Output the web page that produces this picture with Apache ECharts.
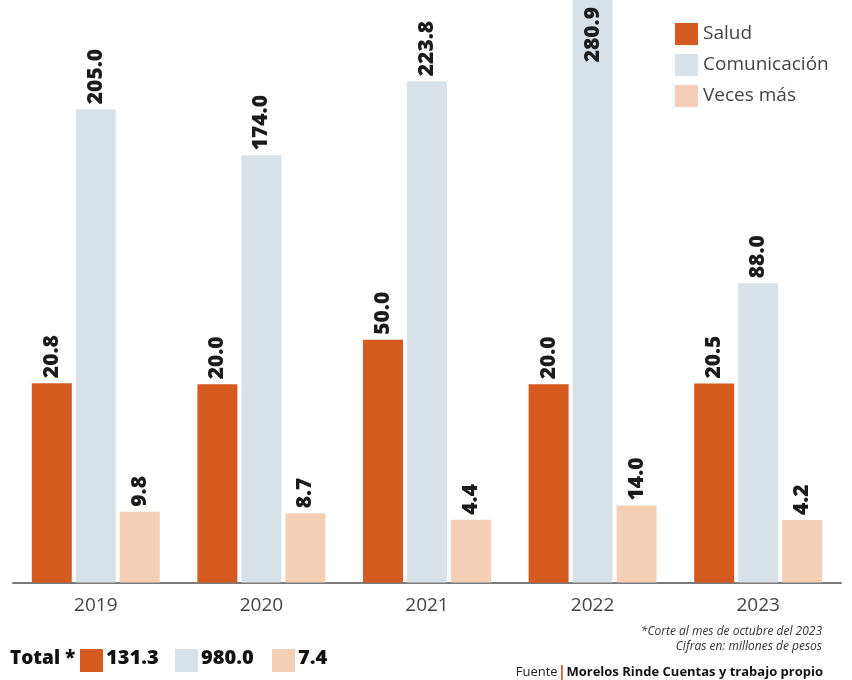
<!DOCTYPE html>
<html>
<head>
<meta charset="utf-8">
<script src="https://cdn.jsdelivr.net/npm/echarts@6/dist/echarts.min.js"></script>
<style>html,body{margin:0;padding:0;background:#fff;}#c{width:852px;height:680px;}</style>
</head>
<body>
<div id="c"></div>
<script>
const years = ['2019', '2020', '2021', '2022', '2023'];
const salud = [20.8, 20.0, 50.0, 20.0, 20.5];
const comunicacion = [205.0, 174.0, 223.8, 280.9, 88.0];
const vecesMas = [9.8, 8.7, 4.4, 14.0, 4.2];
const seriesNames = ['Salud', 'Comunicación', 'Veces más'];
const totals = ['131.3', '980.0', '7.4'];
const colors = ['#D45A20', '#D9E1E8', '#F5CFB5'];

const FONT = '"Open Sans", "Noto Sans", sans-serif';
const chart = echarts.init(document.getElementById('c'), null, {renderer: 'canvas'});

function makeRender(slot) {
  return function (params, api) {
    const i = api.value(0);
    const v = api.value(1);
    const top = api.coord([i, v]);
    const baseY = params.coordSys.y + params.coordSys.height;
    const cx = top[0] + (slot - 1) * 44;
    const w = 40;
    const inside = top[1] < 70;
    const labelY = inside ? 7 : top[1] - 5;
    return {
      type: 'group',
      children: [
        {
          type: 'rect',
          shape: {x: cx - w / 2, y: top[1], width: w, height: baseY - top[1]},
          style: {fill: colors[slot]}
        },
        {
          type: 'text',
          x: cx, y: labelY,
          rotation: Math.PI / 2,
          style: {
            text: v.toFixed(1),
            font: '800 21px ' + FONT,
            fill: '#1b1b1b',
            align: inside ? 'right' : 'left',
            verticalAlign: 'middle'
          }
        }
      ]
    };
  };
}

const seriesData = [salud, comunicacion, vecesMas];
const series = seriesData.map((arr, s) => ({
  type: 'custom',
  name: seriesNames[s],
  yAxisIndex: s === 2 ? 1 : 0,
  itemStyle: {color: colors[s]},
  renderItem: makeRender(s),
  encode: {x: 0, y: 1},
  data: arr.map((v, i) => [i, v])
}));

const graphic = [
  {type: 'text', left: 10, top: 649, style: {text: 'Total *', font: '800 19px ' + FONT, fill: '#111'}}
];
const totX = [80, 175, 272];
totals.forEach((t, k) => {
  graphic.push({type: 'rect', left: totX[k], top: 649, shape: {width: 23, height: 23}, style: {fill: colors[k]}});
  graphic.push({type: 'text', left: totX[k] + 26, top: 648, style: {text: t, font: '800 20px ' + FONT, fill: '#111'}});
});
graphic.push({type: 'text', right: 30, top: 626, style: {text: '*Corte al mes de octubre del 2023', font: 'italic 12px ' + FONT, fill: '#333', align: 'right'}});
graphic.push({type: 'text', right: 30, top: 641, style: {text: 'Cifras en: millones de pesos', font: 'italic 12px ' + FONT, fill: '#333', align: 'right'}});
graphic.push({
  type: 'text', right: 29, top: 664,
  style: {
    text: '{a|Fuente}{b||}{c|Morelos Rinde Cuentas y trabajo propio}',
    rich: {
      a: {font: '13px ' + FONT, fill: '#222'},
      b: {font: 'bold 16px ' + FONT, fill: '#D45A20'},
      c: {font: 'bold 13px ' + FONT, fill: '#111'}
    }
  }
});

chart.setOption({
  animation: false,
  backgroundColor: '#fff',
  grid: {left: 13, right: 11, top: 0, bottom: 97.5},
  legend: {
    data: seriesNames,
    orient: 'vertical',
    left: 670, top: 18,
    itemWidth: 23, itemHeight: 22, itemGap: 9,
    icon: 'rect',
    textStyle: {fontSize: 19, color: '#444', fontFamily: FONT}
  },
  xAxis: {
    type: 'category',
    data: years,
    axisLine: {onZero: false, lineStyle: {color: '#7a7a7a', width: 2}},
    axisTick: {show: false},
    axisLabel: {color: '#444', fontSize: 19, fontFamily: FONT, margin: 14}
  },
  yAxis: [
    {type: 'value', min: -113.2, max: 278.4, show: false, splitLine: {show: false}},
    {type: 'value', min: -37.8, max: 353.8, show: false, splitLine: {show: false}}
  ],
  graphic: graphic,
  series: series
});
</script>
</body>
</html>
